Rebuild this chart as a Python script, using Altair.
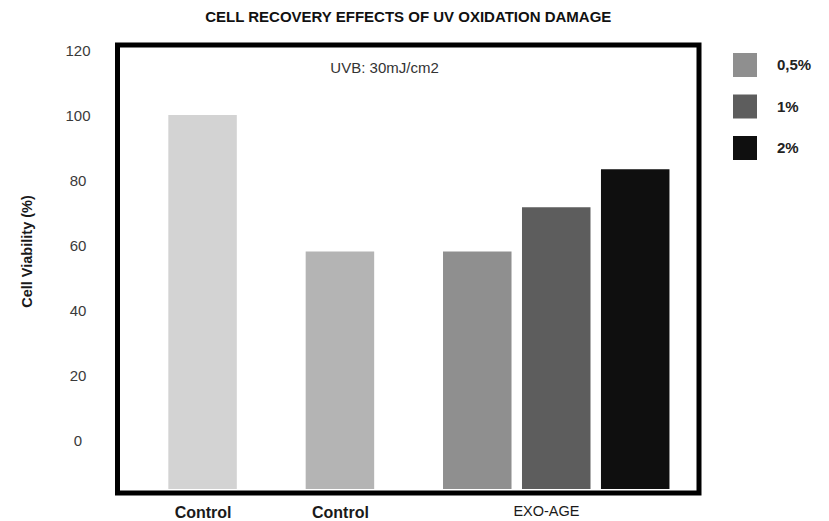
import altair as alt
import pandas as pd

# ---- data ----
bar_keys = ["Control", "Control UV", "0,5%", "1%", "2%"]
group_names = ["Control", "Control", "EXO-AGE", "EXO-AGE", "EXO-AGE"]
viability = [100, 58, 58, 71.6, 83.3]
bar_colors = ["#d3d3d3", "#b4b4b4", "#8f8f8f", "#5d5d5d", "#0f0f0f"]
legend_keys = ["0,5%", "1%", "2%"]
y_ticks = [0, 20, 40, 60, 80, 100, 120]
title_text = "CELL RECOVERY EFFECTS OF UV OXIDATION DAMAGE"
y_title = "Cell Viability (%)"
note_text = "UVB: 30mJ/cm2"

# slot layout: groups one unit apart, EXO-AGE bars packed tighter
group_index = [0, 1, 2, 2, 2]
sub_index = [0, 0, 0, 1, 2]
sub_step = 0.575
slot = [g + s * sub_step for g, s in zip(group_index, sub_index)]

df = pd.DataFrame({"key": bar_keys, "group": group_names,
                   "value": viability, "slot": slot})

W, H = 581.5, 448
x_dom = [-0.583, 3.578]
y_dom = [-16.3, 121.54]
y_base = -15.1

xs = alt.Scale(domain=x_dom, nice=False, zero=False)
ys = alt.Scale(domain=y_dom, nice=False, zero=False)

bars = alt.Chart(df).mark_bar(width=68.5).encode(
    x=alt.X("slot:Q", scale=xs,
            axis=alt.Axis(values=[0, 1, 2.5], grid=False, ticks=False, domain=False,
                          title=None, labelPadding=11, labelBaseline="top",
                          labelColor="#1a1a1a", labelFont="Liberation Sans",
                          labelExpr="datum.value < 2 ? 'Control' : 'EXO-AGE'",
                          labelFontWeight={"condition": {"test": "datum.value < 2", "value": "bold"}, "value": "normal"},
                          labelFontSize={"condition": {"test": "datum.value < 2", "value": 16}, "value": 14.5})),
    y=alt.Y("value:Q", scale=ys,
            axis=alt.Axis(values=y_ticks, grid=False, ticks=False, tickSize=0, domain=False,
                          labelAlign="center", labelPadding=40, labelFontSize=15,
                          labelColor="#3a3a3a", labelFont="Liberation Sans",
                          title=y_title, titleFont="Liberation Sans", titleFontSize=14.5,
                          titleFontWeight="bold", titleColor="#1a1a1a",
                          titleX=-90, titleY=206, titleAlign="center", titleBaseline="middle")),
    y2=alt.datum(y_base),
    color=alt.Color("key:N", scale=alt.Scale(domain=bar_keys, range=bar_colors),
                    legend=alt.Legend(values=legend_keys, title=None, orient="none",
                                      legendX=615.5, legendY=8, symbolType="square",
                                      symbolSize=576, symbolStrokeWidth=0, symbolOpacity=1,
                                      labelFontSize=15, labelFontWeight="bold",
                                      labelFont="Liberation Sans", labelColor="#222222",
                                      labelOffset=20, rowPadding=17.5, padding=0)),
)

note = alt.Chart(pd.DataFrame({"t": [note_text], "x": [1.325], "y": [114.6]})).mark_text(
    fontSize=15, font="Liberation Sans", color="#333333", align="center", baseline="middle"
).encode(x=alt.X("x:Q", scale=xs), y=alt.Y("y:Q", scale=ys), text="t:N")

chart = alt.layer(bars, note).properties(
    width=W, height=H,
    title=alt.TitleParams(title_text, fontSize=15, fontWeight="bold", font="Liberation Sans",
                          color="#111111", anchor="middle", frame="group", offset=18),
    autosize=alt.AutoSizeParams(type="none"),
    padding={"left": 109.5, "top": 37, "right": 121, "bottom": 29},
).configure(background="white").configure_view(stroke="#000000", strokeWidth=5)

chart.save("out.html", embed_options={"renderer": "svg", "actions": False})
